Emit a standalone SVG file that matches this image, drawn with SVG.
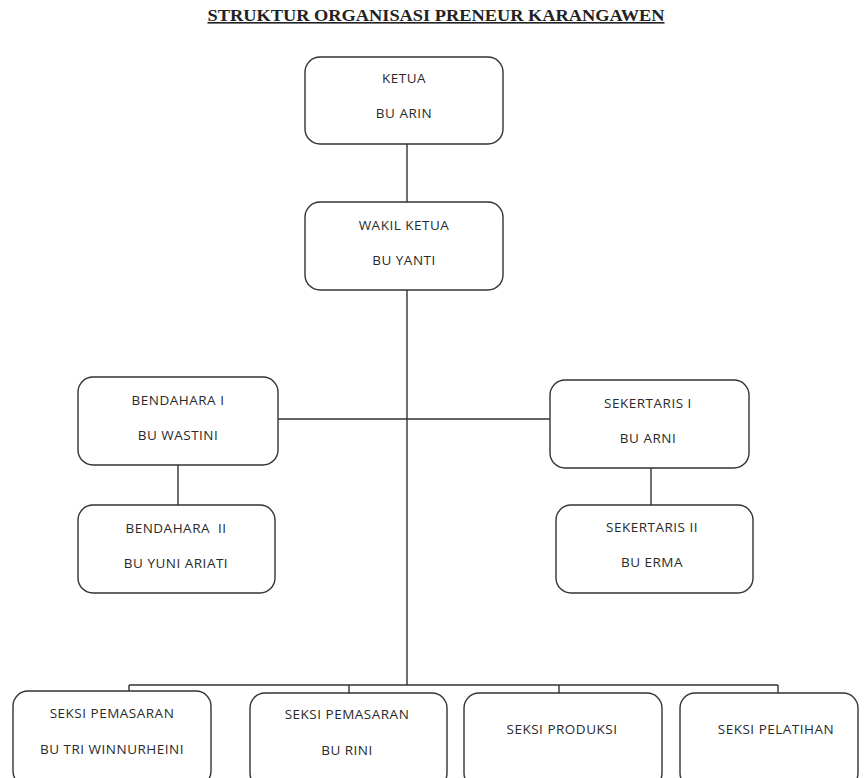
<svg xmlns="http://www.w3.org/2000/svg" width="866" height="778" viewBox="0 0 866 778">
<style>
.box{fill:#fff;stroke:#333;stroke-width:1.4}
.ln{stroke:#333;stroke-width:1.4;fill:none}
.t{font-family:"Open Sans",sans-serif;font-size:13.5px;letter-spacing:0.5px;fill:#2a2a2a;text-anchor:middle}
.title{font-family:"Liberation Serif",serif;font-weight:bold;font-size:16px;fill:#222;text-anchor:middle;text-decoration:underline}
</style>
<rect width="866" height="778" fill="#fff"/>
<text class="title" x="436" y="21" textLength="457" lengthAdjust="spacingAndGlyphs">STRUKTUR ORGANISASI PRENEUR KARANGAWEN</text>
<g id="connectors">
<line class="ln" x1="407" y1="144" x2="407" y2="202"/>
<line class="ln" x1="407" y1="290" x2="407" y2="685"/>
<line class="ln" x1="278" y1="419" x2="550" y2="419"/>
<line class="ln" x1="178" y1="465" x2="178" y2="505"/>
<line class="ln" x1="651" y1="468" x2="651" y2="505"/>
<line class="ln" x1="129" y1="685" x2="778" y2="685"/>
<line class="ln" x1="129" y1="685" x2="129" y2="691"/>
<line class="ln" x1="349" y1="685" x2="349" y2="693"/>
<line class="ln" x1="559" y1="685" x2="559" y2="693"/>
<line class="ln" x1="778" y1="685" x2="778" y2="693"/>
</g>
<g id="ketua"><rect class="box" x="305" y="57" width="198" height="87" rx="15"/><text class="t" x="404" y="83">KETUA</text><text class="t" x="404" y="118">BU ARIN</text></g>
<g id="wakil"><rect class="box" x="305" y="202" width="198" height="88" rx="15"/><text class="t" x="404" y="230">WAKIL KETUA</text><text class="t" x="404" y="265">BU YANTI</text></g>
<g id="bendahara1"><rect class="box" x="78" y="377" width="200" height="88" rx="15"/><text class="t" x="178" y="405">BENDAHARA I</text><text class="t" x="178" y="440">BU WASTINI</text></g>
<g id="bendahara2"><rect class="box" x="78" y="505" width="197" height="88" rx="15"/><text class="t" x="176" y="533">BENDAHARA&#160; II</text><text class="t" x="176" y="568">BU YUNI ARIATI</text></g>
<g id="sekertaris1"><rect class="box" x="550" y="380" width="199" height="88" rx="15"/><text class="t" x="648" y="408">SEKERTARIS I</text><text class="t" x="648" y="443">BU ARNI</text></g>
<g id="sekertaris2"><rect class="box" x="556" y="505" width="197" height="88" rx="15"/><text class="t" x="652" y="532">SEKERTARIS II</text><text class="t" x="652" y="567">BU ERMA</text></g>
<g id="seksi1"><rect class="box" x="13" y="691" width="198" height="95" rx="15"/><text class="t" x="112" y="718">SEKSI PEMASARAN</text><text class="t" x="112" y="754">BU TRI WINNURHEINI</text></g>
<g id="seksi2"><rect class="box" x="250" y="693" width="197" height="95" rx="15"/><text class="t" x="347" y="719">SEKSI PEMASARAN</text><text class="t" x="347" y="755">BU RINI</text></g>
<g id="seksi3"><rect class="box" x="464" y="693" width="198" height="95" rx="15"/><text class="t" x="562" y="734">SEKSI PRODUKSI</text></g>
<g id="seksi4"><rect class="box" x="680" y="693" width="178" height="95" rx="15"/><text class="t" x="776" y="734">SEKSI PELATIHAN</text></g>
</svg>
